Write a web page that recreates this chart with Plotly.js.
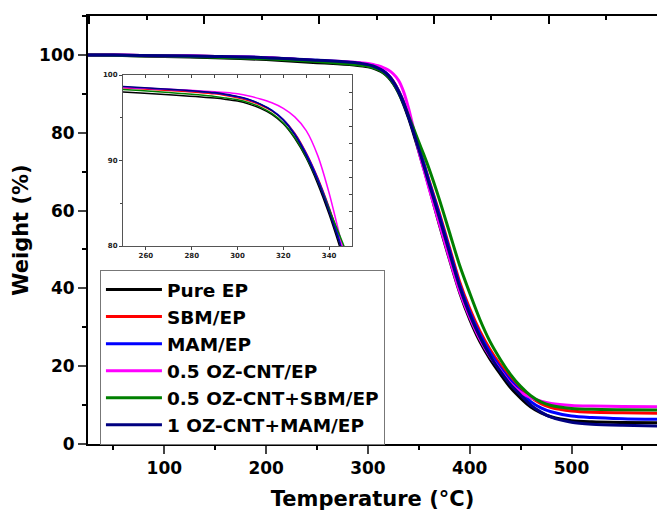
<!DOCTYPE html>
<html>
<head>
<meta charset="utf-8">
<script src="https://cdn.plot.ly/plotly-3.0.1.min.js"></script>
<style>html,body{margin:0;padding:0;background:#fff;}#chart{width:657px;height:515px;}</style>
</head>
<body>
<div id="chart"></div>
<script>
// Temperature (°C)
var temperature = [25, 50, 100, 150, 200, 250, 270, 290, 295, 300, 305, 310, 315, 320, 325, 330, 335, 340, 345, 350, 355, 360, 370, 380, 390, 400, 410, 420, 430, 440, 450, 460, 470, 480, 500, 520, 550, 585];
// Weight (%) per sample
var pureEP     = [100, 99.9, 99.6, 99.3, 98.8, 98.0, 97.7, 97.3, 97.15, 96.95, 96.6, 96.1, 95.4, 94.3, 92.6, 90.3, 87.3, 83.7, 79.6, 75.2, 70.7, 66.1, 56.5, 47.5, 39.0, 32.0, 26.3, 21.8, 18.0, 14.5, 11.8, 9.5, 8.0, 7.0, 6.0, 5.7, 5.55, 5.47];
var sbmEP      = [100, 99.95, 99.8, 99.6, 99.25, 98.5, 98.2, 97.8, 97.6, 97.35, 97.0, 96.5, 95.8, 94.8, 93.2, 90.9, 88.0, 84.5, 80.5, 76.4, 72.1, 67.8, 59.5, 50.6, 41.8, 34.8, 29.0, 24.3, 20.4, 17.0, 14.2, 12.0, 10.4, 9.4, 8.5, 8.15, 8.0, 7.9];
var mamEP      = [100, 99.95, 99.8, 99.6, 99.3, 98.6, 98.3, 97.9, 97.7, 97.45, 97.1, 96.6, 95.9, 94.8, 93.1, 90.8, 87.9, 84.4, 80.4, 76.2, 71.9, 67.5, 59.0, 50.0, 41.0, 34.0, 28.2, 23.5, 19.6, 16.3, 13.5, 10.9, 9.3, 8.3, 7.2, 6.8, 6.5, 6.35];
var ozcntEP    = [100, 99.95, 99.8, 99.6, 99.3, 98.55, 98.35, 98.05, 97.95, 97.8, 97.55, 97.2, 96.75, 96.1, 95.1, 93.5, 90.6, 86.2, 80.8, 75.3, 70.5, 65.8, 56.8, 47.8, 39.3, 32.6, 27.0, 22.5, 19.0, 15.6, 13.3, 11.9, 11.0, 10.4, 9.9, 9.75, 9.65, 9.6];
var ozcntSbmEP = [100, 99.9, 99.7, 99.4, 99.0, 98.3, 97.95, 97.5, 97.3, 97.1, 96.75, 96.25, 95.5, 94.4, 92.7, 90.4, 87.6, 84.3, 81.0, 77.6, 74.3, 70.8, 63.0, 54.5, 46.0, 38.8, 32.0, 26.3, 21.8, 17.9, 14.8, 12.4, 10.8, 9.9, 9.15, 8.9, 8.8, 8.74];
var ozcntMamEP = [100, 99.95, 99.8, 99.6, 99.3, 98.65, 98.35, 97.95, 97.75, 97.5, 97.15, 96.6, 95.85, 94.7, 93.0, 90.6, 87.6, 84.0, 80.0, 75.8, 71.4, 67.0, 58.3, 49.3, 40.5, 33.3, 27.5, 22.7, 18.7, 15.3, 12.6, 10.0, 8.2, 6.9, 5.6, 5.1, 4.8, 4.6];

var seriesNames  = ["Pure EP", "SBM/EP", "MAM/EP", "0.5 OZ-CNT/EP", "0.5 OZ-CNT+SBM/EP", "1 OZ-CNT+MAM/EP"];
var seriesValues = [pureEP, sbmEP, mamEP, ozcntEP, ozcntSbmEP, ozcntMamEP];
var seriesColors = ["#000000", "#ff0000", "#0000ff", "#ff00ff", "#008000", "#000080"];

var xTicks = [100, 200, 300, 400, 500];
var yTicks = [0, 20, 40, 60, 80, 100];
var insetXTicks = [260, 280, 300, 320, 340];
var insetYTicks = [80, 90, 100];

var FONT = "DejaVu Sans, Verdana, sans-serif";
var traces = [];
seriesValues.forEach(function (vals, i) {
  traces.push({
    x: temperature, y: vals, name: seriesNames[i], type: "scatter", mode: "lines",
    line: {color: seriesColors[i], width: 3, shape: "spline", smoothing: 0.8},
    xaxis: "x", yaxis: "y"
  });
});
seriesValues.forEach(function (vals, i) {
  traces.push({
    x: temperature, y: vals, name: seriesNames[i], type: "scatter", mode: "lines",
    line: {color: seriesColors[i], width: 1.5, shape: "spline", smoothing: 0.8},
    xaxis: "x3", yaxis: "y3", showlegend: false, hoverinfo: "skip"
  });
});
// helper traces so the frame-tick overlay axes are created
traces.push({x: [], y: [], xaxis: "x2", yaxis: "y", showlegend: false, hoverinfo: "skip", type: "scatter"});
traces.push({x: [], y: [], xaxis: "x4", yaxis: "y4", showlegend: false, hoverinfo: "skip", type: "scatter"});

var tickFont = {family: FONT, size: 17, color: "#000", weight: "bold"};
var titleFont = {family: FONT, size: 21, color: "#000", weight: "bold"};
var insetFont = {family: FONT, size: 7, color: "#222", weight: "bold"};

var layout = {
  width: 657, height: 515,
  margin: {l: 88, r: 0, t: 16, b: 71},
  paper_bgcolor: "#fff", plot_bgcolor: "#fff",
  showlegend: true,
  legend: {
    x: 0.021, y: 0.4065, xanchor: "left", yanchor: "top",
    bgcolor: "#fff", bordercolor: "#777", borderwidth: 1,
    font: {family: FONT, size: 18.5, color: "#000", weight: "bold"},
    itemwidth: 56, tracegroupgap: 0
  },
  xaxis: {
    range: [25, 584], tickvals: xTicks, ticks: "outside", ticklen: 8, tickwidth: 2,
    minor: {dtick: 50, tick0: 0, ticks: "outside", ticklen: 4, tickwidth: 2, tickcolor: "#000", showgrid: false},
    showline: true, linewidth: 2, linecolor: "#000", showgrid: false, zeroline: false,
    tickfont: tickFont,
    title: {text: "Temperature (°C)", font: titleFont, standoff: 14}
  },
  xaxis2: {
    overlaying: "x", side: "top", anchor: "y", range: [-1, 494],
    tick0: 0, dtick: 100, ticks: "inside", ticklen: 8, tickwidth: 2, tickcolor: "#000",
    minor: {dtick: 50, tick0: 0, ticks: "inside", ticklen: 4, tickwidth: 2, tickcolor: "#000", showgrid: false},
    showticklabels: false, showline: true, linewidth: 2, linecolor: "#000", showgrid: false, zeroline: false
  },
  yaxis: {
    range: [0, 110], tickvals: yTicks, ticks: "outside", ticklen: 8, tickwidth: 2,
    minor: {dtick: 10, tick0: 0, ticks: "outside", ticklen: 4, tickwidth: 2, tickcolor: "#000", showgrid: false},
    showline: true, linewidth: 2, linecolor: "#000", showgrid: false, zeroline: false,
    tickfont: tickFont,
    title: {text: "Weight (%)", font: titleFont, standoff: 5}
  },
  xaxis3: {
    domain: [0.0615, 0.464], anchor: "y3", range: [250, 350], tickvals: insetXTicks,
    ticks: "outside", ticklen: 3, tickwidth: 1, tickcolor: "#444",
    showline: true, linewidth: 1, linecolor: "#555", mirror: true,
    showgrid: false, zeroline: false, tickfont: insetFont
  },
  yaxis3: {
    domain: [0.4626, 0.8621], anchor: "x3", range: [80, 100], tickvals: insetYTicks,
    ticks: "outside", ticklen: 3, tickwidth: 1, tickcolor: "#444",
    minor: {dtick: 5, tick0: 0, ticks: "outside", ticklen: 2, tickwidth: 1, tickcolor: "#444", showgrid: false},
    showline: true, linewidth: 1, linecolor: "#555", mirror: true,
    showgrid: false, zeroline: false, tickfont: insetFont
  },
  xaxis4: {
    overlaying: "x3", side: "top", anchor: "y4", range: [250, 350], tick0: 250, dtick: 10,
    ticks: "inside", ticklen: 3, tickwidth: 1, tickcolor: "#444",
    showticklabels: false, showline: false, showgrid: false, zeroline: false
  },
  yaxis4: {
    overlaying: "y3", side: "right", anchor: "x4", range: [80, 100], tick0: 80, dtick: 2,
    ticks: "inside", ticklen: 3, tickwidth: 1, tickcolor: "#444",
    showticklabels: false, showline: false, showgrid: false, zeroline: false
  }
};

Plotly.newPlot("chart", traces, layout, {staticPlot: true, displayModeBar: false});
</script>
</body>
</html>
